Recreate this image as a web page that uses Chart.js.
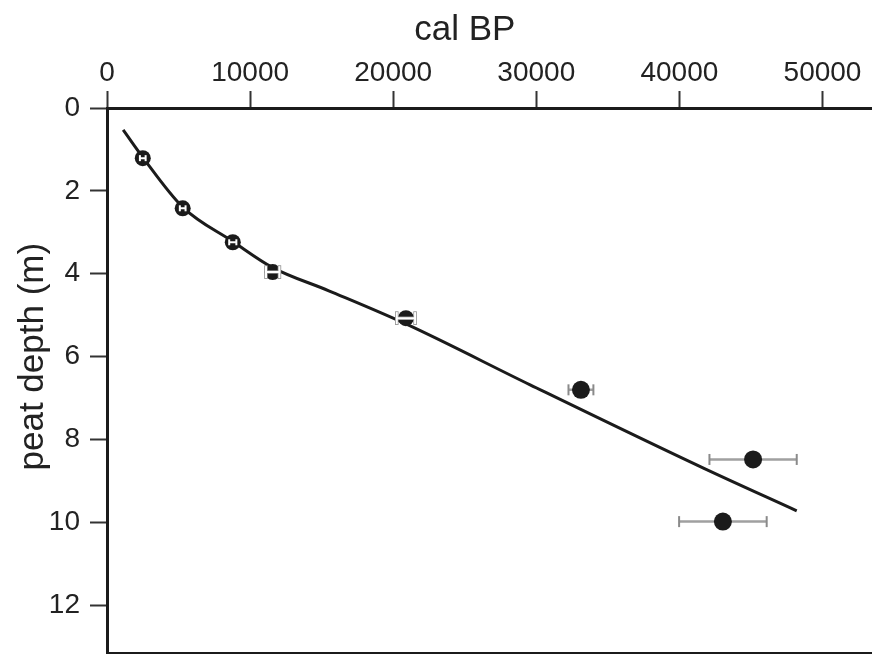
<!DOCTYPE html>
<html>
<head>
<meta charset="utf-8">
<script src="https://cdn.jsdelivr.net/npm/chart.js@4.4.1/dist/chart.umd.min.js"></script>
<style>
  html, body { margin: 0; padding: 0; background: #fff; }
  canvas { display: block; }
</style>
</head>
<body>
<canvas id="c" width="872" height="655"></canvas>
<script>
// ---- data ----
const xTitle = "cal BP";
const yTitle = "peat depth (m)";
const xTicks = [0, 10000, 20000, 30000, 40000, 50000];
const yTicks = [0, 2, 4, 6, 8, 10, 12];
const xRange = [0, 53460];
const yRange = [0, 13.15];

// dated samples
const calBP  = [2500, 5290, 8790, 11580, 20890, 33120, 45150, 43040];
const depthM = [1.21, 2.42, 3.24, 3.96, 5.07, 6.80, 8.48, 9.98];
const ageErr = [200, 200, 250, 470, 640, 870, 3050, 3060];
// the first five error bars are drawn white inside the dots
const smallBarCount = 3;
const whiteBarCount = 5;

// age-depth model curve
const curveBP    = [1130, 2500, 5290, 8790, 11580, 15500, 20890, 29570, 41680, 48200];
const curveDepth = [0.53, 1.19, 2.39, 3.22, 3.85, 4.41, 5.21, 6.68, 8.69, 9.72];

// ---- build datasets ----
const pts = calBP.map((x, i) => ({ x: x, y: depthM[i] }));
const curve = curveBP.map((x, i) => ({ x: x, y: curveDepth[i] }));
function bars(from, to) {
  const out = [];
  for (let i = from; i < to; i++) {
    out.push({ x: calBP[i] - ageErr[i], y: depthM[i] });
    out.push({ x: calBP[i] + ageErr[i], y: depthM[i] });
    out.push({ x: null, y: null });
  }
  return out;
}
const whiteBars = bars(0, whiteBarCount);
const outlinedBars = bars(smallBarCount, whiteBarCount);
const grayBars = bars(whiteBarCount, calBP.length);

const FONT = "'Liberation Sans', Arial, Helvetica, sans-serif";
const INK = '#1b1b1b';
const capSize = c => (Math.floor(c.dataIndex / 3) < smallBarCount ? 3 : 6);

const titlesPlugin = {
  id: 'axisTitles',
  afterDraw(chart) {
    const ctx = chart.ctx;
    const xs = chart.scales.x, ys = chart.scales.y;
    const a = chart.chartArea;
    ctx.save();
    // bottom frame line
    ctx.strokeStyle = INK;
    ctx.lineWidth = 2;
    ctx.beginPath();
    ctx.moveTo(a.left, a.bottom);
    ctx.lineTo(a.right, a.bottom);
    ctx.stroke();
    // axis titles, centred over the labelled tick range
    ctx.fillStyle = '#222';
    ctx.font = '35px ' + FONT;
    ctx.textAlign = 'center';
    ctx.textBaseline = 'middle';
    const xm = xs.getPixelForValue((xTicks[0] + xTicks[xTicks.length - 1]) / 2);
    ctx.fillText(xTitle, xm, 30);
    const ym = ys.getPixelForValue((yTicks[0] + yTicks[yTicks.length - 1]) / 2);
    ctx.translate(33, ym);
    ctx.rotate(-Math.PI / 2);
    ctx.fillText(yTitle, 0, 0);
    ctx.restore();
  }
};

new Chart(document.getElementById('c'), {
  type: 'scatter',
  data: {
    datasets: [
      { // white error bars on top of the dots
        data: whiteBars, showLine: true, spanGaps: false,
        borderColor: '#ffffff', borderWidth: 2,
        pointStyle: 'line', rotation: 90, pointRadius: capSize,
        pointBorderColor: '#ffffff', pointBorderWidth: 2, pointHoverRadius: 0,
        order: 0
      },
      { // thin gray outline of the wider white error bars
        data: outlinedBars, showLine: true, spanGaps: false,
        borderColor: '#8c8c8c', borderWidth: 3.5,
        pointStyle: 'line', rotation: 90, pointRadius: 6.8,
        pointBorderColor: '#8c8c8c', pointBorderWidth: 3.5, pointHoverRadius: 0,
        order: 1
      },
      { // sample dots
        data: pts, showLine: false,
        pointStyle: 'circle',
        pointRadius: c => (c.dataIndex < whiteBarCount ? 8 : 9),
        backgroundColor: INK, pointBorderColor: INK, pointBorderWidth: 0,
        order: 2
      },
      { // gray error bars behind dots
        data: grayBars, showLine: true, spanGaps: false,
        borderColor: '#a0a0a0', borderWidth: 2.5,
        pointStyle: 'line', rotation: 90, pointRadius: 5.5,
        pointBorderColor: '#8a8a8a', pointBorderWidth: 2, pointHoverRadius: 0,
        order: 3
      },
      { // age-depth curve
        data: curve, showLine: true, cubicInterpolationMode: 'monotone',
        borderColor: INK, borderWidth: 3, pointRadius: 0,
        order: 4
      }
    ]
  },
  options: {
    responsive: false,
    animation: false,
    devicePixelRatio: 1,
    layout: { padding: { left: 0, top: 0, right: 0, bottom: 2 }, autoPadding: false },
    plugins: { legend: { display: false }, tooltip: { enabled: false }, title: { display: false } },
    scales: {
      x: {
        type: 'linear', position: 'top', min: xRange[0], max: xRange[1],
        afterBuildTicks: s => { s.ticks = xTicks.map(v => ({ value: v })); },
        afterFit: s => { s.height = 108; s.paddingLeft = 0; s.paddingRight = 0; },
        ticks: { font: { size: 28, family: FONT }, color: '#222', padding: 1, maxRotation: 0, callback: v => String(v) },
        grid: { drawOnChartArea: false, drawTicks: true, tickLength: 17, tickWidth: 2, tickColor: '#333' },
        border: { display: true, color: INK, width: 3 }
      },
      y: {
        type: 'linear', position: 'left', reverse: true, min: yRange[0], max: yRange[1],
        afterBuildTicks: s => { s.ticks = yTicks.map(v => ({ value: v })); },
        afterFit: s => { s.width = 107; s.paddingTop = 0; s.paddingBottom = 0; },
        ticks: { font: { size: 28, family: FONT }, color: '#222', padding: 10, callback: v => String(v) },
        grid: { drawOnChartArea: false, drawTicks: true, tickLength: 17, tickWidth: 2, tickColor: '#333' },
        border: { display: true, color: INK, width: 3 }
      }
    }
  },
  plugins: [titlesPlugin]
});
</script>
</body>
</html>
